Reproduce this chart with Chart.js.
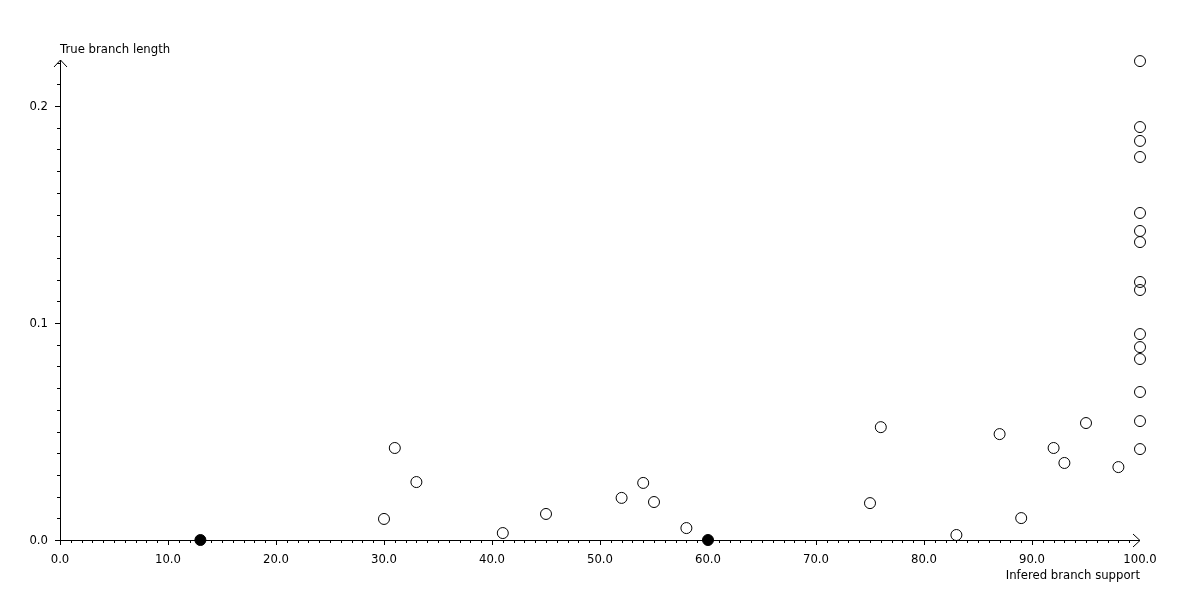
<!DOCTYPE html>
<html>
<head>
<meta charset="utf-8">
<script src="https://cdn.jsdelivr.net/npm/chart.js@4.4.1/dist/chart.umd.min.js"></script>
<style>
  html, body { margin: 0; padding: 0; background: #fff; }
  #wrap { width: 1200px; height: 600px; }
</style>
</head>
<body>
<div id="wrap"><canvas id="branchChart" width="1200" height="600"></canvas></div>
<script>
// inferred branch support (x) vs true branch length (y), open circles
const supportX = [30, 31, 33, 41, 45, 52, 54, 55, 58, 75, 76, 83, 87, 89, 92, 93, 95, 98,
  100, 100, 100, 100, 100, 100, 100, 100, 100, 100, 100, 100, 100, 100, 100];
const lengthY = [0.0097, 0.0424, 0.0267, 0.0032, 0.012, 0.0194, 0.0263, 0.0175, 0.0055,
  0.017, 0.052, 0.0023, 0.0488, 0.0101, 0.0424, 0.0355, 0.0539, 0.0336,
  0.2207, 0.1903, 0.1839, 0.1765, 0.1507, 0.1424, 0.1373, 0.1189, 0.1152,
  0.0949, 0.0889, 0.0834, 0.0682, 0.0548, 0.0419];

// filled points (zero length branches)
const zeroX = [13, 60];
const zeroY = [0, 0];

// axis ticks
const xMajor = [0, 10, 20, 30, 40, 50, 60, 70, 80, 90, 100];
const yMajor = [0, 0.1, 0.2];

const FONT = '11.7px "DejaVu Sans", sans-serif';

// draws the arrow axes, ticks and labels from the chart scales
const axesPlugin = {
  id: 'arrowAxes',
  beforeDatasetsDraw(chart) {
    const ctx = chart.ctx;
    const xs = chart.scales.x;
    const ys = chart.scales.y;
    const x0 = xs.getPixelForValue(0);
    const x1 = xs.getPixelForValue(100);
    const y0 = ys.getPixelForValue(0);
    const yTop = chart.chartArea.top;

    ctx.save();
    ctx.strokeStyle = '#000';
    ctx.lineWidth = 1;
    ctx.beginPath();
    // x axis + arrow
    ctx.moveTo(x0, y0 + 0.5); ctx.lineTo(x1, y0 + 0.5);
    ctx.moveTo(x1 - 7, y0 - 6); ctx.lineTo(x1, y0 + 0.5); ctx.lineTo(x1 - 7, y0 + 7);
    // y axis + arrow
    ctx.moveTo(x0 + 0.5, y0); ctx.lineTo(x0 + 0.5, yTop);
    ctx.moveTo(x0 - 6, yTop + 7); ctx.lineTo(x0 + 0.5, yTop); ctx.lineTo(x0 + 7, yTop + 7);

    // x ticks every 1, longer every 10
    for (let v = 0; v < 100; v++) {
      const px = Math.round(xs.getPixelForValue(v)) + 0.5;
      const len = v % 10 === 0 ? 5 : 3;
      ctx.moveTo(px, y0); ctx.lineTo(px, y0 + len);
    }
    // y ticks every 0.01, longer every 0.1
    for (let i = 0; i <= 22; i++) {
      const py = Math.round(ys.getPixelForValue(i / 100)) + 0.5;
      const len = i % 10 === 0 ? 5 : 3;
      ctx.moveTo(x0, py); ctx.lineTo(x0 - len, py);
    }
    ctx.stroke();

    ctx.fillStyle = '#000';
    ctx.font = FONT;
    ctx.textBaseline = 'middle';
    ctx.textAlign = 'center';
    xMajor.forEach(v => {
      ctx.fillText(v.toFixed(1), xs.getPixelForValue(v), y0 + 20);
    });
    ctx.textAlign = 'right';
    yMajor.forEach(v => {
      ctx.fillText(v.toFixed(1), x0 - 12, ys.getPixelForValue(v) + 1);
    });

    // axis titles
    ctx.textAlign = 'left';
    ctx.fillText('True branch length', x0, yTop - 10);
    ctx.textAlign = 'right';
    ctx.fillText('Infered branch support', x1, y0 + 36);
    ctx.restore();
  }
};

const ctx = document.getElementById('branchChart').getContext('2d');
new Chart(ctx, {
  type: 'scatter',
  data: {
    datasets: [
      {
        label: 'support',
        data: supportX.map((x, i) => ({ x: x, y: lengthY[i] })),
        pointRadius: 5.5,
        pointHoverRadius: 5.5,
        borderWidth: 1,
        borderColor: '#000',
        backgroundColor: 'rgba(0,0,0,0)',
        clip: false
      },
      {
        label: 'zero',
        data: zeroX.map((x, i) => ({ x: x, y: zeroY[i] })),
        pointRadius: 5.5,
        pointHoverRadius: 5.5,
        borderWidth: 1,
        borderColor: '#000',
        backgroundColor: '#000',
        clip: false
      }
    ]
  },
  options: {
    responsive: false,
    animation: false,
    events: [],
    layout: { padding: { left: 60, right: 60, top: 60, bottom: 60 } },
    plugins: {
      legend: { display: false },
      tooltip: { enabled: false },
      title: { display: false }
    },
    scales: {
      x: { type: 'linear', min: 0, max: 100, display: false },
      y: { type: 'linear', min: 0, max: 0.2212, display: false }
    }
  },
  plugins: [axesPlugin]
});
</script>
</body>
</html>
